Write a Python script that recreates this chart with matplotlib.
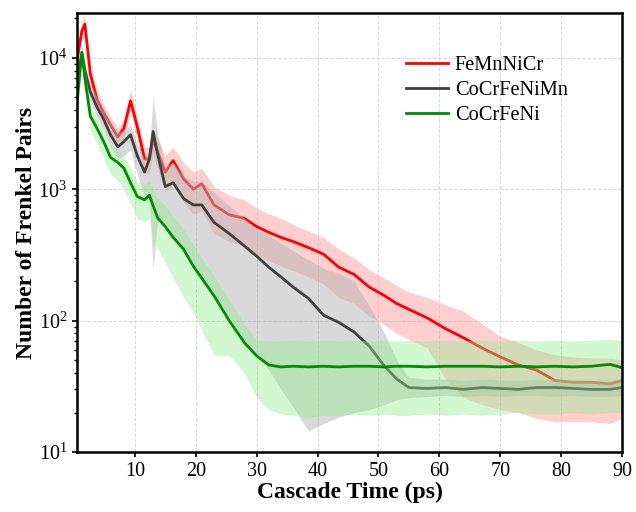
import matplotlib.pyplot as plt
import numpy as np

plt.rcParams['font.family'] = ['Liberation Serif', 'DejaVu Serif']
plt.rcParams['mathtext.fontset'] = 'custom'
plt.rcParams['mathtext.rm'] = 'Liberation Serif'

# cascade time (ps)
t = [0.5, 1.3, 1.8, 2.7, 3.8, 4.9, 6.0, 7.2, 8.2, 9.3, 10.4, 11.6, 12.4, 13.0, 13.8,
     15.0, 16.3, 18.0, 19.6, 21.0, 23.0, 25.5, 28.0, 30.0, 32.0, 34.0, 36.0, 38.5,
     41.0, 43.5, 46.0, 48.5, 51.0, 53.0, 55.0, 58.0, 61.0, 64.0, 67.0, 70.0, 73.0,
     76.0, 79.0, 82.0, 85.0, 88.0, 90.0]

# FeMnNiCr
red = [9500, 16000, 18000, 7500, 4800, 3800, 3100, 2500, 2900, 4700, 3000, 1700, 1700, 2400, 1900,
       1350, 1650, 1200, 1000, 1100, 760, 640, 600, 520, 470, 430, 400, 360,
       320, 255, 225, 180, 155, 135, 122, 105, 87, 74, 62, 53, 46,
       42, 35, 34, 34, 33, 35]
red_hi = [11000, 19000, 21000, 9000, 5600, 4400, 3600, 2900, 3400, 5800, 3500, 2100, 2100, 2900, 2400,
          1800, 2100, 1600, 1350, 1450, 1050, 900, 830, 720, 650, 600, 540, 480,
          430, 350, 300, 245, 210, 185, 165, 150, 132, 118, 95, 76, 68,
          60, 55, 53, 52, 52, 50]
red_lo = [8000, 13500, 15500, 6300, 4000, 3100, 2600, 2100, 2400, 3900, 2400, 1350, 1300, 1800, 1400,
          950, 1100, 800, 650, 680, 460, 400, 370, 320, 285, 260, 240, 215,
          190, 150, 135, 108, 93, 80, 72, 62, 36, 26, 23, 21, 20,
          18, 17, 17, 17, 16.5, 18]

# CoCrFeNiMn
gray = [6500, 10800, 8000, 5500, 4200, 3400, 2600, 2100, 2300, 2600, 1800, 1350, 1700, 2750, 1800,
        1050, 1120, 850, 760, 760, 560, 460, 370, 310, 255, 215, 180, 148,
        110, 97, 82, 64, 45, 36, 31, 30.5, 31, 30, 31, 30.5, 30,
        31, 31, 30.5, 30, 30, 31]
gray_hi = [7500, 12500, 9500, 6400, 5000, 4000, 3300, 2700, 2800, 3100, 2200, 1700, 2000, 5000, 2600,
           1500, 1600, 1250, 1150, 1150, 950, 750, 600, 500, 440, 390, 340, 290,
           250, 230, 200, 130, 80, 50, 37, 36, 36, 35, 36, 35.5, 35,
           36, 36, 35.5, 35, 35.5, 36]
gray_lo = [5500, 9500, 6800, 4700, 3500, 2800, 2100, 1700, 1800, 2000, 1300, 900, 800, 250, 620,
           490, 420, 350, 260, 210, 160, 105, 70, 55, 42, 30, 22, 14.5,
           16.5, 18.5, 20, 21, 23, 25, 26, 26.5, 27, 26.5, 27, 26.5, 27,
           27, 26.5, 27, 26.5, 26.5, 27]

# CoCrFeNi
green = [4500, 11000, 7000, 3600, 2900, 2300, 1750, 1600, 1450, 1120, 880, 830, 900, 750, 600,
         520, 430, 350, 260, 210, 155, 100, 68, 54, 46, 44.5, 45, 44.5,
         45, 44.5, 45, 45, 44.5, 45, 45, 44.5, 45, 45, 45, 44.5, 45,
         44.5, 45, 44.5, 45, 46.5, 44]
green_hi = [5500, 12000, 8500, 4400, 3500, 2800, 2200, 2000, 1800, 1450, 1150, 1100, 1150, 1000, 850,
            750, 620, 500, 380, 300, 220, 145, 95, 72, 70, 70, 71, 70,
            71, 70, 71, 70, 71, 70, 71, 70, 71, 70, 71, 70, 71,
            70, 71, 70, 71, 72, 71]
green_lo = [3500, 9500, 5500, 2800, 2200, 1700, 1300, 1150, 1000, 780, 600, 560, 600, 420, 350,
            280, 210, 150, 115, 85, 55, 54, 40, 26, 21, 19.5, 19, 18.5,
            19, 19, 19.5, 19, 19.5, 19, 19, 19.5, 19, 19.5, 19, 19.5, 20,
            19.5, 19.5, 20, 19.5, 20, 20]

fig = plt.figure(figsize=(6.36, 5.12), dpi=100)
ax = fig.add_axes([0.121, 0.117, 0.857, 0.858])

# each band is drawn over the previous series' line
ax.fill_between(t, red_lo, red_hi, color='#ff9696', alpha=0.45, lw=0, zorder=2)
ax.plot(t, red, color='#ff0000', lw=2, label='FeMnNiCr', zorder=3)
ax.fill_between(t, gray_lo, gray_hi, color='#b4b4b4', alpha=0.5, lw=0, zorder=4)
ax.plot(t, gray, color='#404040', lw=2, label='CoCrFeNiMn', zorder=5)
ax.fill_between(t, green_lo, green_hi, color='#90ee90', alpha=0.4, lw=0, zorder=6)
ax.plot(t, green, color='#008c00', lw=2, label='CoCrFeNi', zorder=7)

ax.set_yscale('log')
ax.set_xlim(0.5, 90)
ax.set_ylim(10, 22000)
ax.set_xticks([10, 20, 30, 40, 50, 60, 70, 80, 90])
ax.grid(True, which='major', ls='--', lw=0.7, color='#d9d9d9', zorder=0)
ax.set_axisbelow(True)
ax.tick_params(labelsize=14.5, direction='out', width=1.2)
ax.tick_params(which='minor', width=1, length=2.5)
for s in ax.spines.values():
    s.set_linewidth(1.8)
    s.set_zorder(10)

ax.set_xlabel('Cascade Time (ps)', fontsize=17, fontweight='bold', labelpad=1)
ax.set_ylabel('Number of Frenkel Pairs', fontsize=17, fontweight='bold', labelpad=1)

leg = ax.legend(loc='upper left', bbox_to_anchor=(0.603, 0.903), frameon=False, fontsize=14.7,
                handlelength=2.06, handletextpad=0.35, labelspacing=0.28, borderpad=0,
                borderaxespad=0)
leg.set_zorder(11)

fig.savefig('out.png', dpi=100)
